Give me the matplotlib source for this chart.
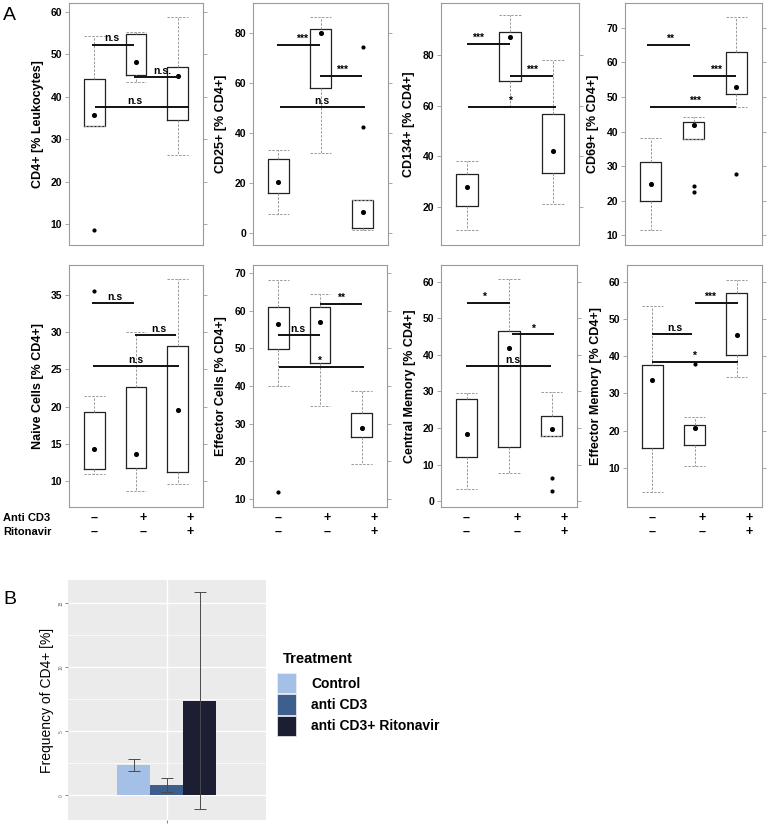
import matplotlib
matplotlib.use('Agg')
import matplotlib.pyplot as plt
from matplotlib.patches import Patch

plt.rcParams['font.family'] = ['Liberation Sans', 'DejaVu Sans']

# ---- Panel A: each box is [whisker low, Q1, Q3, whisker high] ----
cd4_box = [[33.0, 33.2, 44.3, 54.4], [43.5, 45.1, 54.8, 55.3], [26.3, 34.5, 47.0, 58.8]]
cd4_dot = [35.7, 48.1, 45.0]
cd4_out = [[8.6], [], []]
cd4_sig = [(0.95, 1.95, 52.3, 'n.s', 1.43), (1.95, 3.05, 44.7, 'n.s.', 2.64), (1.02, 3.26, 37.5, 'n.s', 1.98)]

cd25_box = [[7.6, 16.0, 29.6, 33.1], [31.9, 58.0, 81.7, 86.4], [1.3, 1.9, 13.1, 13.1]]
cd25_dot = [20.4, 80.0, 8.5]
cd25_out = [[], [], [74.5, 42.3]]
cd25_sig = [(0.97, 1.98, 75.2, '***', 1.55), (1.98, 2.99, 62.7, '***', 2.51), (1.03, 3.05, 50.3, 'n.s', 2.02)]

cd134_box = [[11.0, 20.3, 32.9, 38.3], [60.0, 69.9, 89.3, 95.7], [21.2, 33.3, 56.9, 78.1]]
cd134_dot = [27.8, 87.2, 42.2]
cd134_out = [[], [], []]
cd134_sig = [(1.0, 2.0, 84.4, '***', 1.25), (2.0, 3.0, 71.9, '***', 2.5), (1.03, 3.06, 59.6, '*', 2.0)]

cd69_box = [[11.5, 19.8, 31.3, 38.1], [37.9, 37.9, 42.9, 44.2], [47.2, 50.9, 63.0, 73.2]]
cd69_dot = [24.8, 42.0, 53.0]
cd69_out = [[], [24.2, 22.5], [27.7]]
cd69_sig = [(0.92, 1.91, 65.1, '**', 1.44), (1.99, 2.99, 56.0, '***', 2.53), (0.98, 3.0, 47.0, '***', 2.03)]

naive_box = [[11.0, 11.7, 19.35, 21.5], [8.7, 11.8, 22.7, 30.0], [9.6, 11.3, 28.2, 37.1]]
naive_dot = [14.4, 13.6, 19.6]
naive_out = [[35.5], [], []]
naive_sig = [(0.95, 1.95, 33.9, 'n.s', 1.5), (1.98, 2.95, 29.6, 'n.s', 2.55), (0.97, 3.02, 25.4, 'n.s', 2.0)]

eff_box = [[40.1, 49.8, 60.9, 68.1], [34.7, 46.2, 60.9, 64.4], [19.2, 26.3, 32.7, 38.6]]
eff_dot = [56.4, 57.1, 28.7]
eff_out = [[11.7], [], []]
eff_sig = [(1.0, 1.99, 53.5, 'n.s', 1.46), (1.99, 3.0, 61.8, '**', 2.51), (1.02, 3.04, 45.1, '*', 1.97)]

cm_box = [[3.2, 12.0, 28.0, 29.5], [7.6, 14.8, 46.6, 60.7], [17.8, 17.8, 23.3, 29.9]]
cm_dot = [18.3, 41.9, 19.7]
cm_out = [[], [], [6.2, 2.9]]
cm_sig = [(1.0, 2.02, 54.2, '*', 1.42), (2.06, 3.06, 45.6, '*', 2.57), (0.98, 2.99, 37.0, 'n.s', 2.08)]

em_box = [[3.4, 15.3, 37.55, 53.6], [10.6, 16.1, 21.4, 23.7], [34.5, 40.2, 57.0, 60.4]]
em_dot = [33.5, 20.7, 45.6]
em_out = [[], [37.8], []]
em_sig = [(1.0, 1.95, 45.9, 'n.s', 1.53), (2.01, 3.02, 54.3, '***', 2.37), (1.0, 3.02, 38.5, '*', 1.99)]

anti_cd3_row = ['–', '+', '+']
ritonavir_row = ['–', '–', '+']
row_sign_x = [1.0, 2.18, 3.3]

# ---- Panel B ----
treatments = ['Control', 'anti CD3', 'anti CD3+ Ritonavir']
freq_mean = [2.37, 0.78, 7.39]
freq_err = [0.45, 0.55, 8.5]
bar_colors = ['#a4c0e6', '#3e5e8e', '#1c1e33']


def draw_box_panel(ax, boxes, dots, outliers, sigs, ylabel, ylim, yticks):
    stats = []
    for b, d in zip(boxes, dots):
        stats.append(dict(whislo=b[0], q1=b[1], med=d, q3=b[2], whishi=b[3], fliers=[]))
    dash = dict(color='#999999', ls=(0, (2.5, 1.5)), lw=0.7)
    ax.bxp(stats, positions=[1, 2, 3], widths=0.5, capwidths=0.5, showfliers=False,
           boxprops=dict(color='#222222', lw=0.9), whiskerprops=dash, capprops=dash,
           medianprops=dict(lw=0))
    ax.scatter([1, 2, 3], dots, s=7, color='black', zorder=5)
    for i, outs in enumerate(outliers):
        if outs:
            ax.scatter([i + 1] * len(outs), outs, s=4, color='black', zorder=5)
    for x0, x1, y, lab, lx in sigs:
        ax.plot([x0, x1], [y, y], color='#111111', lw=1.4, solid_capstyle='butt', zorder=6)
        ax.annotate(lab, (lx, y), xytext=(0, 0.8), textcoords='offset points',
                    ha='center', va='bottom', fontsize=7.5, fontweight='bold')
    ax.set_xlim(0.4, 3.6)
    ax.set_ylim(*ylim)
    ax.set_yticks(yticks)
    ax.set_xticks([])
    ax.set_ylabel(ylabel, fontsize=9, fontweight='bold', labelpad=5)
    for sp in ax.spines.values():
        sp.set_color('#9a9a9a')
        sp.set_linewidth(0.8)
    ax.tick_params(axis='y', direction='out', length=3, width=0.6, color='#9a9a9a',
                   labelsize=7.5, pad=2, right=True)
    for t in ax.get_yticklabels():
        t.set_fontweight('bold')


fig = plt.figure(figsize=(7.68, 8.27), dpi=100)
W, H = 768.0, 827.0


def add_ax(x0, x1, y0, y1):
    return fig.add_axes([x0 / W, 1 - y1 / H, (x1 - x0) / W, (y1 - y0) / H])


top_cols = [(69, 203), (253, 388), (441, 579), (625, 762)]
bot_cols = [(69, 203), (253, 387), (441, 577), (627, 762)]

top_panels = [
    (cd4_box, cd4_dot, cd4_out, cd4_sig, 'CD4+ [% Leukocytes]', (5.05, 62.1), range(10, 61, 10)),
    (cd25_box, cd25_dot, cd25_out, cd25_sig, 'CD25+ [% CD4+]', (-4.7, 92), range(0, 81, 20)),
    (cd134_box, cd134_dot, cd134_out, cd134_sig, 'CD134+ [% CD4+]', (5, 100.6), range(20, 81, 20)),
    (cd69_box, cd69_dot, cd69_out, cd69_sig, 'CD69+ [% CD4+]', (7.2, 77.2), range(10, 71, 10)),
]
bot_panels = [
    (naive_box, naive_dot, naive_out, naive_sig, 'Naive Cells [% CD4+]', (6.56, 39.0), range(10, 36, 5)),
    (eff_box, eff_dot, eff_out, eff_sig, 'Effector Cells [% CD4+]', (7.8, 72.2), range(10, 71, 10)),
    (cm_box, cm_dot, cm_out, cm_sig, 'Central Memory [% CD4+]', (-1.6, 64.6), range(0, 61, 10)),
    (em_box, em_dot, em_out, em_sig, 'Effector Memory [% CD4+]', (-0.5, 64.5), range(10, 61, 10)),
]

for (x0, x1), p in zip(top_cols, top_panels):
    ax = add_ax(x0, x1, 3, 245)
    draw_box_panel(ax, *p)

for (x0, x1), p in zip(bot_cols, bot_panels):
    ax = add_ax(x0, x1, 265, 507)
    draw_box_panel(ax, *p)
    tr = ax.get_xaxis_transform()
    for xs, s1, s2 in zip(row_sign_x, anti_cd3_row, ritonavir_row):
        ax.text(xs, -0.045, s1, transform=tr, ha='center', va='center', fontsize=9, fontweight='bold')
        ax.text(xs, -0.103, s2, transform=tr, ha='center', va='center', fontsize=9, fontweight='bold')

fig.text(3 / W, 1 - 518 / H, 'Anti CD3', ha='left', va='center', fontsize=8, fontweight='bold')
fig.text(3 / W, 1 - 532 / H, 'Ritonavir', ha='left', va='center', fontsize=8, fontweight='bold')

fig.text(3 / W, 1 - 15 / H, 'A', ha='left', va='center', fontsize=14)
fig.text(3 / W, 1 - 599 / H, 'B', ha='left', va='center', fontsize=14)

# ---- Panel B: ggplot-like bar chart ----
axb = add_ax(67.7, 266, 580, 820)
axb.set_facecolor('#ebebeb')
xpos = [0.8, 1.0, 1.2]
axb.bar(xpos, freq_mean, width=0.2, color=bar_colors, zorder=3)
axb.errorbar(xpos, freq_mean, yerr=freq_err, fmt='none', ecolor='#4a4a4a', elinewidth=0.7,
             capsize=4, capthick=0.7, zorder=4)
axb.set_xlim(0.4, 1.6)
axb.set_ylim(-1.93, 16.8)
axb.set_yticks([0, 5, 10, 15])
axb.set_yticks([2.5, 7.5, 12.5], minor=True)
axb.set_xticks([1.0])
axb.set_xticklabels([''])
axb.grid(True, which='major', color='white', lw=1.0, zorder=0)
axb.grid(True, which='minor', axis='y', color='white', lw=0.5, zorder=0)
axb.set_axisbelow(True)
for sp in axb.spines.values():
    sp.set_visible(False)
axb.tick_params(axis='both', which='major', length=2, width=0.5, color='#555555',
                labelsize=3.5, labelcolor='#666666', pad=1)
axb.tick_params(axis='y', which='minor', length=0)
for t in axb.get_yticklabels():
    t.set_rotation(90)
    t.set_va('center')
axb.set_ylabel('Frequency of CD4+ [%]', fontsize=10, labelpad=3)

# legend: title placed on its own, keys below it
fig.text(283 / W, 1 - 659 / H, 'Treatment', ha='left', va='center', fontsize=10.5, fontweight='bold')
handles = [Patch(facecolor=c, edgecolor='#f0f0f0', lw=0.5) for c in bar_colors]
leg = fig.legend(handles, treatments, loc='upper left',
                 bbox_to_anchor=(277 / W, 1 - 673 / H), frameon=False, borderpad=0,
                 borderaxespad=0, handlelength=1.4, handleheight=1.85, labelspacing=0.1,
                 handletextpad=1.05, prop={'size': 10, 'weight': 'bold'})

fig.savefig('out.png', dpi=100)
